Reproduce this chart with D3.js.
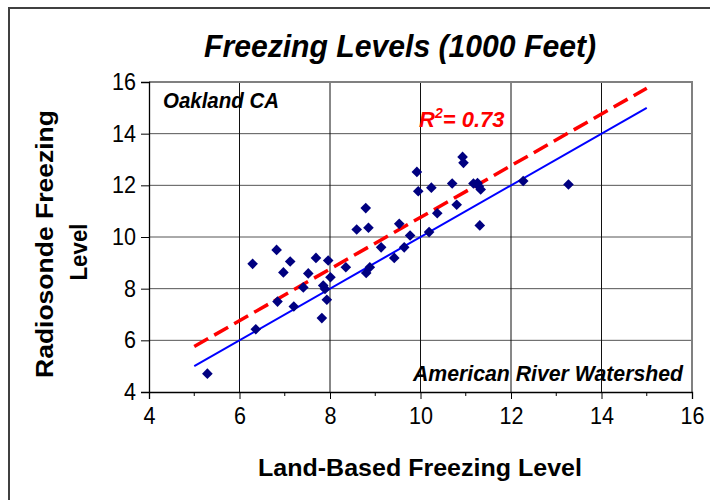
<!DOCTYPE html>
<html><head><meta charset="utf-8">
<script src="https://cdn.jsdelivr.net/npm/d3@7"></script>
<style>html,body{margin:0;padding:0;background:#fff;}svg{display:block;font-family:"Liberation Sans",Arial,sans-serif;}</style>
</head><body>
<svg id="chart" width="710" height="500"></svg>
<script>
// ---- data ----
const landBased = [5.29,6.36,6.29,6.82,6.84,6.97,7.12,7.20,7.41,7.52,7.69,7.82,7.85,7.89,7.93,7.96,8.01,8.35,8.59,8.79,8.85,8.80,8.88,9.13,9.42,9.53,9.64,9.77,9.92,9.95,10.24,10.19,10.37,10.70,10.80,10.93,10.95,11.17,11.26,11.29,11.33,11.31,12.27,13.27];
const radiosonde = [4.71,6.43,8.96,9.50,7.50,8.63,9.05,7.31,8.05,8.59,9.19,6.86,8.12,7.99,7.57,9.09,8.44,8.83,10.29,11.12,10.36,8.61,8.83,9.60,9.19,10.51,9.60,10.06,12.52,11.77,11.91,10.19,10.92,12.07,11.25,13.10,12.87,12.07,12.09,11.96,11.84,10.45,12.17,12.03];
const xTicks = [4,6,8,10,12,14,16];
const xMinorTicks = [5,7,9,11,13,15];
const yTicks = [4,6,8,10,12,14,16];
const lineRange = [5,15];
const oneToOne = {slope:1, intercept:0};
const regression = {slope:1, intercept:0.76};
const rSquared = "0.73";

const svg = d3.select("#chart");
const W = 710, H = 500;
svg.append("rect").attr("x",0).attr("y",0).attr("width",W).attr("height",H).attr("fill","#fff");
// outer frame
svg.append("rect").attr("x",9).attr("y",8).attr("width",720).attr("height",520)
  .attr("fill","none").attr("stroke","#404040").attr("stroke-width",2);

const L = 149, R = 692, T = 82, B = 392;
const x = d3.scaleLinear().domain([4,16]).range([L,R]);
const y = d3.scaleLinear().domain([4,16]).range([B,T]);

// gridlines
svg.append("g").selectAll("line").data(yTicks.slice(1)).join("line")
  .attr("x1",L).attr("x2",R).attr("y1",d=>y(d)).attr("y2",d=>y(d))
  .attr("stroke","#555").attr("stroke-width",1);
svg.append("g").selectAll("line").data(xTicks.slice(1)).join("line")
  .attr("x1",d=>x(d)).attr("x2",d=>x(d)).attr("y1",T).attr("y2",B)
  .attr("stroke","#111").attr("stroke-width",1);
// plot frame top/right
svg.append("path").attr("d",`M${L},${T}H${R}V${B}`).attr("fill","none")
  .attr("stroke","#808080").attr("stroke-width",2);

// axes
const xAxis = d3.axisBottom(x).tickValues(xTicks).tickSize(7).tickPadding(9).tickFormat(d3.format("d"));
const gx = svg.append("g").attr("transform",`translate(0,${B})`).call(xAxis);
gx.selectAll(".minor").data(xMinorTicks).join("line").attr("class","minor")
  .attr("x1",d=>x(d)).attr("x2",d=>x(d)).attr("y1",0).attr("y2",4).attr("stroke","#000");
const yAxis = d3.axisLeft(y).tickValues(yTicks).tickSize(8).tickPadding(5).tickFormat(d3.format("d"));
const gy = svg.append("g").attr("transform",`translate(${L},0)`).call(yAxis);
[gx,gy].forEach(g=>{
  g.select(".domain").attr("stroke","#000").attr("stroke-width",1.3);
  g.selectAll(".tick line").attr("stroke","#000");
  g.selectAll("text").attr("font-size",23).attr("fill","#000").attr("font-family","Liberation Sans, Arial, sans-serif");
});
gx.selectAll(".tick text").attr("textLength",d=>String(d).length*12).attr("lengthAdjust","spacingAndGlyphs");
gy.selectAll(".tick text").attr("textLength",d=>String(d).length*12).attr("lengthAdjust","spacingAndGlyphs");

// trend lines
const lineGen = d3.line().x(d=>x(d[0])).y(d=>y(d[1]));
const pts = (m)=>lineRange.map(v=>[v, m.slope*v + m.intercept]);
svg.append("path").attr("d",lineGen(pts(oneToOne))).attr("stroke","#0000FF").attr("stroke-width",2).attr("fill","none");
svg.append("path").attr("d",lineGen(pts(regression))).attr("stroke","#FF0000").attr("stroke-width",3.5)
  .attr("stroke-dasharray","16,7").attr("fill","none");

// points
const diamond = d3.symbol().type(d3.symbolDiamond2).size(72);
svg.append("g").selectAll("path").data(landBased.map((v,i)=>[v,radiosonde[i]])).join("path")
  .attr("transform",d=>`translate(${x(d[0])},${y(d[1])})`)
  .attr("d",diamond).attr("fill","#000080");

// texts
const bi = (sel)=>sel.attr("font-weight","bold").attr("font-style","italic");
bi(svg.append("text").attr("x",400).attr("y",57).attr("text-anchor","middle").attr("font-size",31)
  .attr("textLength",392).attr("lengthAdjust","spacingAndGlyphs").text("Freezing Levels (1000 Feet)"));
bi(svg.append("text").attr("x",163).attr("y",108).attr("font-size",22)
  .attr("textLength",116).attr("lengthAdjust","spacingAndGlyphs").text("Oakland CA"));
bi(svg.append("text").attr("x",413).attr("y",381).attr("font-size",22)
  .attr("textLength",270).attr("lengthAdjust","spacingAndGlyphs").text("American River Watershed"));
const rt = bi(svg.append("text").attr("x",419).attr("y",127).attr("font-size",22).attr("fill","#FF0000"));
rt.append("tspan").text("R");
rt.append("tspan").attr("dy",-9).attr("font-size",14).text("2");
rt.append("tspan").attr("dy",9).text("= " + rSquared);

svg.append("text").attr("x",420).attr("y",476).attr("text-anchor","middle").attr("font-size",23)
  .attr("font-weight","bold").attr("textLength",324).attr("lengthAdjust","spacingAndGlyphs").text("Land-Based Freezing Level");
const yt = svg.append("g").attr("transform","translate(0,244) rotate(-90)");
yt.append("text").attr("x",0).attr("y",53).attr("text-anchor","middle").attr("font-size",23)
  .attr("font-weight","bold").attr("textLength",268).attr("lengthAdjust","spacingAndGlyphs").text("Radiosonde Freezing");
yt.append("text").attr("x",-8).attr("y",87).attr("text-anchor","middle").attr("font-size",23)
  .attr("font-weight","bold").attr("textLength",57).attr("lengthAdjust","spacingAndGlyphs").text("Level");
</script>
</body></html>
